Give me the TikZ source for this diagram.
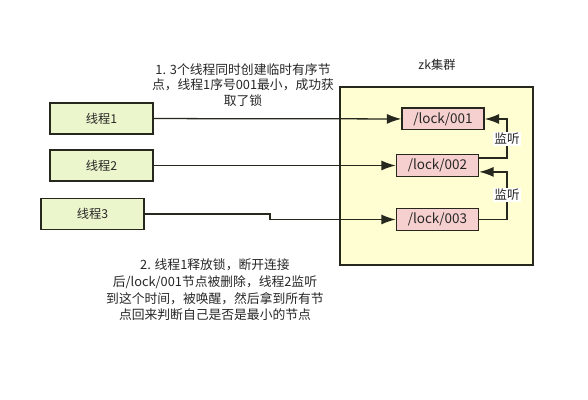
\documentclass[tikz,border=0pt]{standalone}
\usepackage{fontspec}
\setmainfont{Noto Sans CJK SC}
\usetikzlibrary{arrows.meta,positioning}
\definecolor{threadfill}{RGB}{236,246,204}
\definecolor{zkfill}{RGB}{255,254,210}
\definecolor{lockfill}{RGB}{246,208,206}
\definecolor{edge}{RGB}{38,40,30}

\begin{document}
\begin{tikzpicture}[x=0.025cm, y=0.025cm,
	every node/.style={font=\fontsize{8.7}{11}\selectfont, text=black!85},
	thread/.style={draw=edge, line width=1pt, fill=threadfill, minimum width=2.575cm, minimum height=0.775cm},
	lock/.style={draw=edge, line width=1pt, fill=lockfill, minimum width=2.05cm, minimum height=0.54cm, inner sep=0pt, font=\fontsize{9.6}{11}\selectfont},
	link/.style={draw=edge, line width=0.9pt, -{Latex[length=0.36cm, width=0.25cm]}},
	watchtag/.style={fill=white, inner sep=1pt, font=\fontsize{9}{11}\selectfont}]
	\useasboundingbox (0,0) rectangle (588,400);
	\node[draw=edge, line width=1pt, fill=zkfill, minimum width=4.825cm, minimum height=4.45cm] (zk) at (436.5,224) {};
	\node (zklabel) at (437,335) {zk集群};
	\node[thread] (t1) at (101.5,281.5) {线程1};
	\node[thread] (t2) at (101.5,234.5) {线程2};
	\node[thread] (t3) at (92.5,186) {线程3};
	\node[lock] (l1) at (443,281) {/lock/001};
	\node[lock] (l2) at (437.5,234.5) {/lock/002};
	\node[lock] (l3) at (437.5,180.5) {/lock/003};
	\node[align=center, font=\fontsize{9.1}{10.8}\selectfont] (note1) at (243,315)
		{1. 3个线程同时创建临时有序节\\点，线程1序号001最小，成功获\\取了锁};
	\node[align=center, font=\fontsize{9.1}{11.8}\selectfont] (note2) at (215,110)
		{2. 线程1释放锁，断开连接\\后/lock/001节点被删除，线程2监听\\到这个时间，被唤醒，然后拿到所有节\\点回来判断自己是否是最小的节点};
	\coordinate (bend3) at (270,186);
	\coordinate (w1) at (507,261);
	\coordinate (w2) at (507,205);
	\draw[link] (t1) -- (l1);
	\draw[link] (t2) -- (l2);
	\draw[link] (t3.east) -- (bend3) |- (l3.west);
	\draw[link] ([yshift=0.19cm]l2.east) -| (w1) |- (l1.east);
	\draw[link] (l3.east) -| (w2) |- ([yshift=-0.16cm]l2.east);
	\node[watchtag] (tag1) at (w1) {监听};
	\node[watchtag] (tag2) at (w2) {监听};
\end{tikzpicture}
\end{document}
